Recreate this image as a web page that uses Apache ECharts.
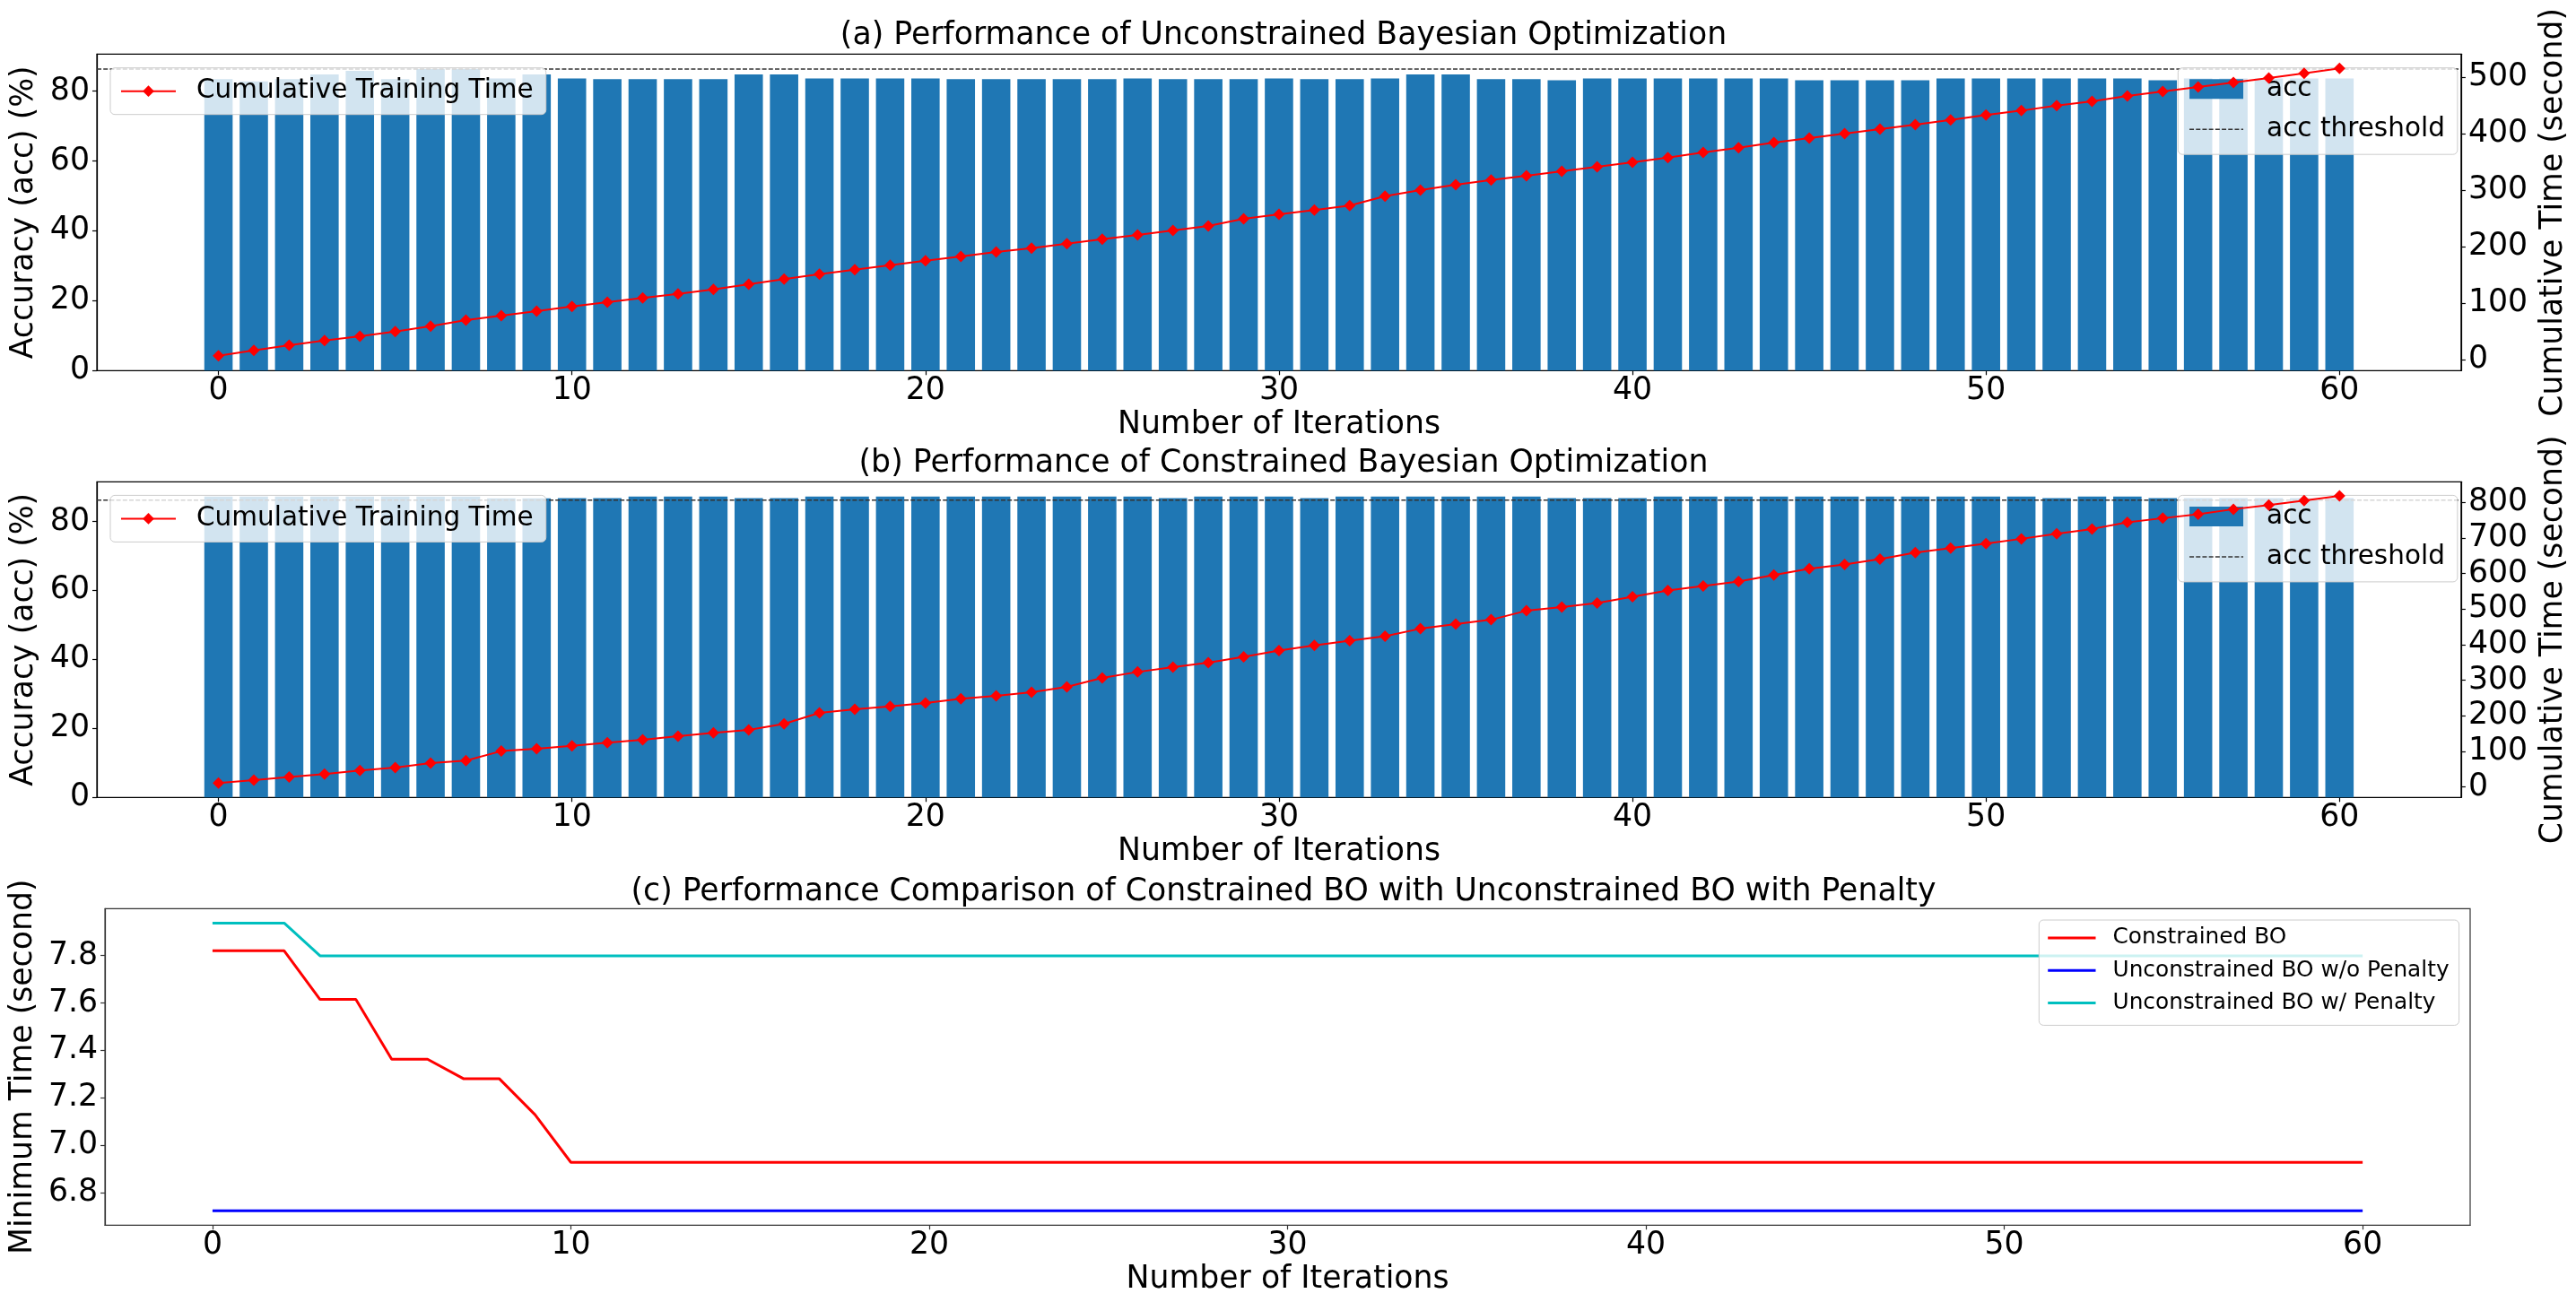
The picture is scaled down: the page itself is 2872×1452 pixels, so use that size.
<!DOCTYPE html>
<html>
<head>
<meta charset="utf-8">
<script src="https://cdn.jsdelivr.net/npm/echarts@6/dist/echarts.min.js"></script>
<style>
html,body{margin:0;padding:0;background:#fff;}
#chart{width:2872px;height:1452px;}
</style>
</head>
<body>
<div id="chart"></div>
<script>
// ---------------- data ----------------
const iterations = [0,1,2,3,4,5,6,7,8,9,10,11,12,13,14,15,16,17,18,19,20,21,22,23,24,25,26,27,28,29,30,
  31,32,33,34,35,36,37,38,39,40,41,42,43,44,45,46,47,48,49,50,51,52,53,54,55,56,57,58,59,60];

const accUnconstrained = [83.4,82.8,83.4,84.8,85.8,83.4,86.3,86.3,83.6,84.8,
  83.6,83.4,83.4,83.4,83.4,84.8,84.8,83.6,83.6,83.6,
  83.6,83.4,83.4,83.4,83.4,83.4,83.6,83.4,83.4,83.4,
  83.6,83.4,83.4,83.6,84.8,84.8,83.4,83.4,83.1,83.6,
  83.6,83.6,83.6,83.6,83.6,83.1,83.1,83.1,83.1,83.6,
  83.6,83.6,83.6,83.6,83.6,83.1,83.6,83.6,83.6,83.6,83.6];

const timeUnconstrained = [6.9,16.4,25.4,33.9,41.3,49.7,59.3,69.8,77.8,85.7,
  94.2,101.6,109,116.4,124.3,133.3,142.3,151.3,159.3,167.2,
  175.1,182.5,190.5,197.4,205.3,213.2,220.6,228.6,236.5,249.2,
  257,264.6,272.5,289.4,300,309.5,318,325.4,333.3,341.3,
  349.2,357.7,366.7,375.1,384.1,392.1,400,407.9,415.9,424.3,
  432.8,440.7,449.7,457.1,466.7,474.6,482.5,490.5,498.4,506.9,515.3];

const accConstrained = [87.2,87.2,87.2,87.2,87.2,87.2,87.2,87.2,86.7,86.7,
  86.8,86.8,87.2,87.2,87.2,86.8,86.8,87.2,87.2,87.2,
  87.2,87.2,87.2,87.2,87.2,87.2,87.2,86.8,87.2,87.2,
  87.2,86.8,87.2,87.2,87.2,87.2,87.2,87.2,86.8,86.8,
  86.8,87.2,87.2,87.2,87.2,87.2,87.2,87.2,87.2,87.2,
  87.2,87.2,86.8,87.2,87.2,86.8,86.8,86.8,86.8,86.8,86.8];

const timeConstrained = [10.9,19.3,27.7,36.1,46.2,54.6,67.2,73.9,100.8,107.5,
  115.9,124.3,132.7,142.7,152,160.4,177.2,208.2,218.3,226.7,
  235.9,247.7,256.1,266.2,281.3,306.5,323.3,336.7,349.3,366.1,
  383.7,398,411.4,424,445,457.6,470.2,495.4,505.5,517.2,
  534.8,552.5,565.1,577.7,596.1,613.8,625.5,640.6,659.1,671.7,
  684.3,697.7,712,725.4,743.9,755.7,766.6,780.9,792.6,805.2,818.6];

const thresholdA = 86.3;
const thresholdB = 86.2;

const minTimeConstrained = [7.82,7.82,7.82,7.615,7.615,7.363,7.363,7.281,7.281,7.129,
  6.928,6.928,6.928,6.928,6.928,6.928,6.928,6.928,6.928,6.928,
  6.928,6.928,6.928,6.928,6.928,6.928,6.928,6.928,6.928,6.928,
  6.928,6.928,6.928,6.928,6.928,6.928,6.928,6.928,6.928,6.928,
  6.928,6.928,6.928,6.928,6.928,6.928,6.928,6.928,6.928,6.928,
  6.928,6.928,6.928,6.928,6.928,6.928,6.928,6.928,6.928,6.928,6.928];

const minTimeNoPenalty = [6.724,6.724,6.724,6.724,6.724,6.724,6.724,6.724,6.724,6.724,
  6.724,6.724,6.724,6.724,6.724,6.724,6.724,6.724,6.724,6.724,
  6.724,6.724,6.724,6.724,6.724,6.724,6.724,6.724,6.724,6.724,
  6.724,6.724,6.724,6.724,6.724,6.724,6.724,6.724,6.724,6.724,
  6.724,6.724,6.724,6.724,6.724,6.724,6.724,6.724,6.724,6.724,
  6.724,6.724,6.724,6.724,6.724,6.724,6.724,6.724,6.724,6.724,6.724];

const minTimePenalty = [7.937,7.937,7.937,7.799,7.799,7.799,7.799,7.799,7.799,7.799,
  7.799,7.799,7.799,7.799,7.799,7.799,7.799,7.799,7.799,7.799,
  7.799,7.799,7.799,7.799,7.799,7.799,7.799,7.799,7.799,7.799,
  7.799,7.799,7.799,7.799,7.799,7.799,7.799,7.799,7.799,7.799,
  7.799,7.799,7.799,7.799,7.799,7.799,7.799,7.799,7.799,7.799,
  7.799,7.799,7.799,7.799,7.799,7.799,7.799,7.799,7.799,7.799,7.799];

const xTicks = [0,10,20,30,40,50,60];
const accTicks = [0,20,40,60,80];
const timeTicksA = [0,100,200,300,400,500];
const timeTicksB = [0,100,200,300,400,500,600,700,800];
const minTimeTicks = [6.8,7.0,7.2,7.4,7.6,7.8];

const titles = [
  '(a) Performance of Unconstrained Bayesian Optimization',
  '(b) Performance of Constrained Bayesian Optimization',
  '(c) Performance Comparison of Constrained BO with Unconstrained BO with Penalty'
];

// ---------------- layout / style ----------------
const F = 'DejaVu Sans';
const FS = 34.7;
const LFS = 29.5;
const xMinAB = -3.44, xMaxAB = 63.44;
const pairs = (xs, ys) => xs.map((x, i) => [x, ys[i]]);

const grids = [
  {left:108, top:60.3, width:2646, height:353},
  {left:108, top:537.3, width:2646, height:352},
  {left:108, top:1013.3, width:2646, height:353}
];

const spineColor = ['#000','#000','#333'];

function xAxisCfg(g, min, max) {
  return {
    type:'value', gridIndex:g, min:min, max:max,
    name:'Number of Iterations', nameLocation:'middle', nameGap:43,
    nameTextStyle:{fontSize:FS, color:'#000', fontFamily:F},
    axisLine:{show:true, onZero:false, lineStyle:{color:spineColor[g], width:1.2}},
    axisTick:{show:true, length:5, customValues:xTicks, lineStyle:{color:spineColor[g], width:1.2}},
    axisLabel:{customValues:xTicks, margin:5, fontSize:FS, color:'#000', fontFamily:F},
    splitLine:{show:false}
  };
}
function yAxisCfg(g, pos, min, max, ticks, name, gap, fmt) {
  return {
    type:'value', gridIndex:g, position:pos, min:min, max:max,
    name:name, nameLocation:'middle', nameRotate:90, nameGap:gap,
    nameTextStyle:{fontSize:FS, color:'#000', fontFamily:F},
    axisLine:{show:true, onZero:false, lineStyle:{color:spineColor[g], width:1.2}},
    axisTick:{show:true, length:5, customValues:ticks, lineStyle:{color:spineColor[g], width:1.2}},
    axisLabel:{customValues:ticks, margin:8, fontSize:FS, color:'#000', fontFamily:F,
      formatter: fmt || (v => String(v))},
    splitLine:{show:false}
  };
}

function legendBox(extra) {
  return Object.assign({
    orient:'vertical', selectedMode:false,
    backgroundColor:'rgba(255,255,255,0.8)', borderColor:'#cccccc', borderWidth:1, borderRadius:5,
    textStyle:{fontSize:LFS, color:'#000', fontFamily:F}
  }, extra);
}

const noSym = {opacity:0};
const dy = 476.7;

const option = {
  animation:false,
  backgroundColor:'#fff',
  title: titles.map((t, i) => ({
    text:t, left:1431, top:[22.8, 499.5, 977][i], textAlign:'center', padding:0,
    textStyle:{fontSize:FS, fontWeight:'normal', color:'#000', fontFamily:F}
  })),
  grid: grids.map((g, i) => Object.assign({show:true, borderColor:spineColor[i], borderWidth:1.2, backgroundColor:'transparent'}, g)),
  xAxis:[
    xAxisCfg(0, xMinAB, xMaxAB),
    xAxisCfg(1, xMinAB, xMaxAB),
    xAxisCfg(2, -3, 63)
  ],
  yAxis:[
    yAxisCfg(0, 'left', 0, 90.6, accTicks, 'Accuracy (acc) (%)', 60),
    yAxisCfg(0, 'right', -19.5, 540.8, timeTicksA, 'Cumulative Time (second)', 71),
    yAxisCfg(1, 'left', 0, 91.5, accTicks, 'Accuracy (acc) (%)', 60),
    yAxisCfg(1, 'right', -29.5, 858, timeTicksB, 'Cumulative Time (second)', 71),
    yAxisCfg(2, 'left', 6.663, 7.998, minTimeTicks, 'Minimum Time (second)', 70, v => v.toFixed(1))
  ],
  legend:[
    legendBox({data:['Cumulative Training Time'], left:123, top:75.7, padding:[11,14,11,11],
      itemWidth:61, itemHeight:16, itemGap:10, z:6, lineStyle:{width:2},
      textStyle:{fontSize:LFS, color:'#000', fontFamily:F, padding:[0,0,0,18]}}),
    legendBox({data:[{name:'acc', icon:'rect'}, {name:'acc threshold', itemStyle:noSym}], left:2428.3, top:75.7, padding:[8.5,14,13,12],
      itemWidth:60, itemHeight:22, itemGap:15, z:4, lineStyle:{width:1.5},
      textStyle:{fontSize:LFS, color:'#000', fontFamily:F, padding:[0,0,0,21]}}),
    legendBox({data:['Cumulative Training Time'], left:123, top:75.7+dy, padding:[11,14,11,11],
      itemWidth:61, itemHeight:16, itemGap:10, z:6, lineStyle:{width:2},
      textStyle:{fontSize:LFS, color:'#000', fontFamily:F, padding:[0,0,0,18]}}),
    legendBox({data:[{name:'acc', icon:'rect'}, {name:'acc threshold', itemStyle:noSym}], left:2428.3, top:75.7+dy, padding:[8.5,14,13,12],
      itemWidth:60, itemHeight:22, itemGap:15, z:4, lineStyle:{width:1.5},
      textStyle:{fontSize:LFS, color:'#000', fontFamily:F, padding:[0,0,0,21]}}),
    legendBox({data:[{name:'Constrained BO', itemStyle:noSym},{name:'Unconstrained BO w/o Penalty', itemStyle:noSym},{name:'Unconstrained BO w/ Penalty', itemStyle:noSym}],
      left:2273.3, top:1026, padding:[7.5,11,12.5,8.4],
      itemWidth:53.3, itemHeight:12, itemGap:11.2, z:6, lineStyle:{width:3},
      textStyle:{fontSize:24.8, color:'#000', fontFamily:F, padding:[0,0,0,14]}})
  ],
  series:[
    // (a)
    {type:'bar', name:'acc', xAxisIndex:0, yAxisIndex:0, data:pairs(iterations, accUnconstrained),
      barWidth:31.6, itemStyle:{color:'#1f77b4'}, z:2, silent:true},
    {type:'line', name:'acc threshold', xAxisIndex:0, yAxisIndex:0,
      data:[[xMinAB, thresholdA],[xMaxAB, thresholdA]], symbol:'none',
      lineStyle:{color:'#333', width:1.5, type:[5,2.2]}, itemStyle:{color:'#333'}, z:3, silent:true},
    {type:'line', name:'Cumulative Training Time', xAxisIndex:0, yAxisIndex:1,
      data:pairs(iterations, timeUnconstrained), symbol:'diamond', symbolSize:13, showSymbol:true,
      lineStyle:{color:'#ff0000', width:2}, itemStyle:{color:'#ff0000'}, z:5, silent:true},
    // (b)
    {type:'bar', name:'acc', xAxisIndex:1, yAxisIndex:2, data:pairs(iterations, accConstrained),
      barWidth:31.6, itemStyle:{color:'#1f77b4'}, z:2, silent:true},
    {type:'line', name:'acc threshold', xAxisIndex:1, yAxisIndex:2,
      data:[[xMinAB, thresholdB],[xMaxAB, thresholdB]], symbol:'none',
      lineStyle:{color:'#333', width:1.5, type:[5,2.2]}, itemStyle:{color:'#333'}, z:3, silent:true},
    {type:'line', name:'Cumulative Training Time', xAxisIndex:1, yAxisIndex:3,
      data:pairs(iterations, timeConstrained), symbol:'diamond', symbolSize:13, showSymbol:true,
      lineStyle:{color:'#ff0000', width:2}, itemStyle:{color:'#ff0000'}, z:5, silent:true},
    // (c)
    {type:'line', name:'Constrained BO', xAxisIndex:2, yAxisIndex:4,
      data:pairs(iterations, minTimeConstrained), symbol:'none',
      lineStyle:{color:'#ff0000', width:3}, itemStyle:{color:'#ff0000'}, z:3, silent:true},
    {type:'line', name:'Unconstrained BO w/o Penalty', xAxisIndex:2, yAxisIndex:4,
      data:pairs(iterations, minTimeNoPenalty), symbol:'none',
      lineStyle:{color:'#0000ff', width:3}, itemStyle:{color:'#0000ff'}, z:3, silent:true},
    {type:'line', name:'Unconstrained BO w/ Penalty', xAxisIndex:2, yAxisIndex:4,
      data:pairs(iterations, minTimePenalty), symbol:'none',
      lineStyle:{color:'#00bfbf', width:3}, itemStyle:{color:'#00bfbf'}, z:3, silent:true}
  ]
};

const chart = echarts.init(document.getElementById('chart'), null, {renderer:'canvas'});
chart.setOption(option);
</script>
</body>
</html>
